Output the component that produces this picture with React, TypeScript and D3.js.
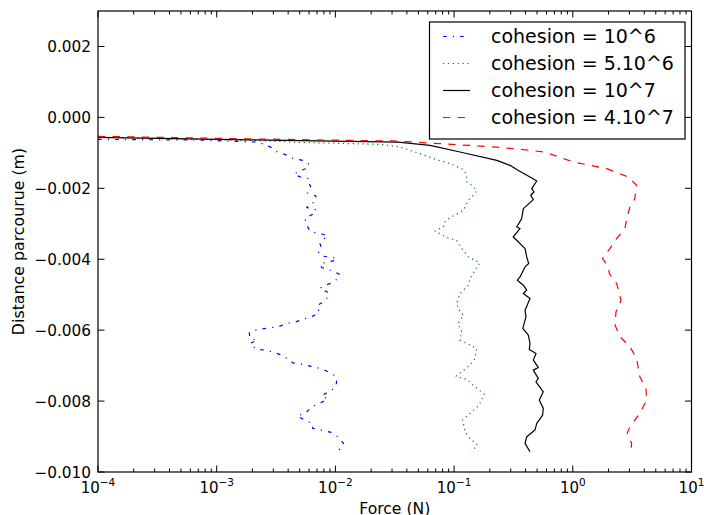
import React from "react";
import * as d3 from "d3";

const width = 704;
const height = 515;
const plot = { left: 98, right: 691.5, top: 11, bottom: 472 };

// distances are read in mm, converted to m below
const blueForce = [1e-4, 6.95e-4, 2.23e-3, 2.87e-3, 3.24e-3, 3.81e-3, 4.42e-3, 5.31e-3, 6.03e-3, 5.65e-3, 4.77e-3, 4.48e-3, 5.1e-3, 5.96e-3, 5.92e-3, 6.19e-3, 5.8e-3, 6.87e-3, 6.73e-3, 6.0e-3, 5.73e-3, 6.87e-3, 6.61e-3, 5.65e-3, 5.55e-3, 6.11e-3, 7.31e-3, 8.55e-3, 7.41e-3, 7.67e-3, 7.18e-3, 8.02e-3, 9.73e-3, 1.03e-2, 8.55e-3, 7.41e-3, 7.67e-3, 9.12e-3, 1.08e-2, 1.08e-2, 9.31e-3, 7.91e-3, 7.41e-3, 8.71e-3, 8.71e-3, 7.82e-3, 7.05e-3, 7.28e-3, 6.44e-3, 5.37e-3, 4.63e-3, 3.89e-3, 3.3e-3, 2.72e-3, 2.1e-3, 1.88e-3, 1.91e-3, 2.2e-3, 1.91e-3, 2.14e-3, 2.55e-3, 3.04e-3, 3.53e-3, 4.01e-3, 4.37e-3, 5.13e-3, 6.11e-3, 7.09e-3, 8.34e-3, 9.73e-3, 1.03e-2, 1.01e-2, 9.02e-3, 7.67e-3, 8.61e-3, 7.31e-3, 6.31e-3, 5.65e-3, 4.77e-3, 5.37e-3, 6.44e-3, 6.44e-3, 7.67e-3, 9.2e-3, 1.05e-2, 1.17e-2, 1.11e-2, 9.73e-3];
const blueDistMm = [-0.62, -0.639, -0.696, -0.845, -0.977, -1.051, -1.163, -1.211, -1.324, -1.445, -1.541, -1.606, -1.682, -1.727, -1.839, -1.944, -2.132, -2.217, -2.386, -2.451, -2.544, -2.6, -2.713, -2.825, -2.949, -3.211, -3.276, -3.324, -3.558, -3.699, -3.823, -3.915, -3.963, -4.028, -4.076, -4.141, -4.234, -4.31, -4.423, -4.515, -4.668, -4.752, -4.825, -4.938, -5.062, -5.22, -5.296, -5.501, -5.606, -5.69, -5.766, -5.811, -5.907, -5.935, -6.0, -6.076, -6.234, -6.282, -6.375, -6.535, -6.563, -6.628, -6.704, -6.817, -6.921, -6.958, -7.014, -7.062, -7.146, -7.268, -7.389, -7.577, -7.738, -7.831, -7.952, -8.065, -8.161, -8.33, -8.423, -8.515, -8.648, -8.769, -8.817, -8.882, -9.006, -9.192, -9.344, -9.437];

const greenForce = [1e-4, 1.91e-3, 5.03e-3, 2.38e-2, 3.5e-2, 5.16e-2, 7.13e-2, 9.23e-2, 0.116, 0.126, 0.128, 0.141, 0.155, 0.145, 0.132, 0.12, 0.0923, 0.0836, 0.0811, 0.069, 0.0867, 0.105, 0.116, 0.132, 0.165, 0.15, 0.136, 0.132, 0.112, 0.105, 0.112, 0.12, 0.108, 0.116, 0.112, 0.128, 0.155, 0.15, 0.136, 0.116, 0.104, 0.128, 0.15, 0.179, 0.163, 0.141, 0.118, 0.124, 0.136, 0.157, 0.141];
const greenDistMm = [-0.563, -0.648, -0.704, -0.761, -0.837, -1.023, -1.192, -1.304, -1.445, -1.586, -1.823, -1.915, -2.076, -2.197, -2.338, -2.62, -2.825, -2.949, -3.09, -3.203, -3.389, -3.465, -3.699, -3.935, -4.104, -4.31, -4.544, -4.732, -4.966, -5.248, -5.485, -5.577, -5.811, -6.048, -6.282, -6.375, -6.516, -6.797, -6.986, -7.175, -7.296, -7.389, -7.597, -7.803, -8.113, -8.301, -8.535, -8.865, -9.051, -9.239, -9.428];

const blackForce = [1e-4, 1.91e-3, 3.37e-2, 6.27e-2, 0.112, 0.229, 0.296, 0.345, 0.436, 0.497, 0.451, 0.471, 0.442, 0.465, 0.383, 0.371, 0.337, 0.359, 0.315, 0.337, 0.396, 0.409, 0.425, 0.396, 0.359, 0.341, 0.383, 0.409, 0.383, 0.436, 0.396, 0.403, 0.379, 0.422, 0.436, 0.43, 0.49, 0.465, 0.512, 0.465, 0.512, 0.49, 0.564, 0.522, 0.564, 0.557, 0.497, 0.48, 0.409, 0.396, 0.436];
const blackDistMm = [-0.563, -0.634, -0.696, -0.789, -0.977, -1.211, -1.352, -1.493, -1.682, -1.794, -2.008, -2.104, -2.197, -2.318, -2.572, -2.854, -3.09, -3.135, -3.372, -3.465, -3.699, -3.935, -4.121, -4.217, -4.499, -4.592, -4.732, -4.873, -4.966, -5.107, -5.437, -5.625, -5.952, -6.141, -6.375, -6.544, -6.656, -6.845, -7.051, -7.127, -7.361, -7.456, -7.738, -7.972, -8.206, -8.394, -8.628, -8.817, -9.006, -9.192, -9.428];

const redForce = [1e-4, 1.91e-3, 3.37e-2, 6.27e-2, 0.229, 0.436, 0.583, 1.01, 1.93, 2.93, 3.45, 3.33, 3.03, 2.87, 2.75, 2.34, 2.05, 1.78, 1.99, 2.03, 2.34, 2.55, 2.31, 2.27, 2.5, 3.03, 3.45, 3.67, 4.13, 4.19, 3.67, 3.03, 2.87, 3.13, 3.07];
const redDistMm = [-0.535, -0.606, -0.668, -0.724, -0.837, -0.93, -0.977, -1.259, -1.445, -1.682, -1.915, -2.29, -2.527, -2.808, -3.135, -3.417, -3.699, -3.98, -4.217, -4.403, -4.685, -5.155, -5.485, -5.859, -6.189, -6.47, -6.797, -7.315, -7.642, -7.972, -8.346, -8.724, -8.91, -9.192, -9.456];

const labels = ["cohesion = 10^6", "cohesion = 5.10^6", "cohesion = 10^7", "cohesion = 4.10^7"];
const colors = ["#0000ff", "#008000", "#000000", "#ff0000"];
const dashes = ["3.7,6.1,1.2,6.1", "1.2,3.7", "none", "7.3,7.3"];

const yTicks = [-0.01, -0.008, -0.006, -0.004, -0.002, 0, 0.002];

const font = "DejaVu Sans, sans-serif";

const toPoints = (f: number[], dMm: number[]) => f.map((v, i) => [v, dMm[i] / 1000] as [number, number]);

const series = [
  toPoints(blueForce, blueDistMm),
  toPoints(greenForce, greenDistMm),
  toPoints(blackForce, blackDistMm),
  toPoints(redForce, redDistMm),
];

const fmtY = (v: number) => {
  const s = Math.abs(v).toFixed(3);
  return v < -1e-12 ? "\u2212" + s : s;
};

export default function App() {
  const x = d3.scaleLog().domain([1e-4, 10]).range([plot.left, plot.right]);
  const y = d3.scaleLinear().domain([-0.01, 0.003]).range([plot.bottom, plot.top]);
  const line = d3
    .line<[number, number]>()
    .x((d) => x(d[0]))
    .y((d) => y(d[1]));

  const xAll = x.ticks();
  const isMajor = (v: number) => Math.abs(Math.log10(v) - Math.round(Math.log10(v))) < 1e-9;
  const majorLen = 6.5;
  const minorLen = 3.5;

  return (
    <svg
      width={width}
      height={height}
      style={{ position: "absolute", left: 0, top: 0, background: "#fff" }}
      fontFamily={font}
    >
      <rect width={width} height={height} fill="#fff" />
      <defs>
        <clipPath id="plotclip">
          <rect x={plot.left} y={plot.top} width={plot.right - plot.left} height={plot.bottom - plot.top} />
        </clipPath>
      </defs>

      <g clipPath="url(#plotclip)">
        {series.map((pts, i) => (
          <path
            key={i}
            d={line(pts) || ""}
            fill="none"
            stroke={colors[i]}
            strokeWidth={1.2}
            strokeDasharray={dashes[i]}
            strokeLinejoin="round"
          />
        ))}
      </g>

      {/* x ticks (bottom + top, inward) */}
      {xAll.map((v, i) => {
        const len = isMajor(v) ? majorLen : minorLen;
        const px = x(v);
        return (
          <g key={"xt" + i} stroke="#000" strokeWidth={1}>
            <line x1={px} x2={px} y1={plot.bottom} y2={plot.bottom - len} />
            <line x1={px} x2={px} y1={plot.top} y2={plot.top + len} />
          </g>
        );
      })}
      {xAll.filter(isMajor).map((v, i) => {
        const e = Math.round(Math.log10(v));
        return (
          <text key={"xl" + i} x={x(v)} y={plot.bottom + 21} textAnchor="middle" fontSize={15}>
            10
            <tspan dy={-7} fontSize={10.5}>
              {e < 0 ? "\u2212" + Math.abs(e) : String(e)}
            </tspan>
          </text>
        );
      })}

      {/* y ticks (left + right, inward) */}
      {yTicks.map((v, i) => (
        <g key={"yt" + i}>
          <line x1={plot.left} x2={plot.left + majorLen} y1={y(v)} y2={y(v)} stroke="#000" />
          <line x1={plot.right} x2={plot.right - majorLen} y1={y(v)} y2={y(v)} stroke="#000" />
          <text x={plot.left - 7} y={y(v)} dy="0.36em" textAnchor="end" fontSize={15.3}>
            {fmtY(v)}
          </text>
        </g>
      ))}

      <rect
        x={plot.left}
        y={plot.top}
        width={plot.right - plot.left}
        height={plot.bottom - plot.top}
        fill="none"
        stroke="#000"
        strokeWidth={1.2}
      />

      <text x={(plot.left + plot.right) / 2} y={513.5} textAnchor="middle" fontSize={15.6}>
        Force (N)
      </text>
      <text
        transform={`translate(24, ${(plot.top + plot.bottom) / 2}) rotate(-90)`}
        textAnchor="middle"
        fontSize={15.8}
      >
        Distance parcourue (m)
      </text>

      {/* legend */}
      <g>
        <rect x={429.5} y={22} width={255.5} height={117} fill="#fff" stroke="#000" strokeWidth={1.2} />
        {labels.map((lab, i) => {
          const cy = 36.5 + i * 27;
          return (
            <g key={"lg" + i}>
              <line
                x1={443}
                x2={470}
                y1={cy}
                y2={cy}
                stroke={colors[i]}
                strokeWidth={1.2}
                strokeDasharray={dashes[i]}
              />
              <text x={491} y={cy} dy="0.36em" fontSize={19}>
                {lab}
              </text>
            </g>
          );
        })}
      </g>
    </svg>
  );
}
